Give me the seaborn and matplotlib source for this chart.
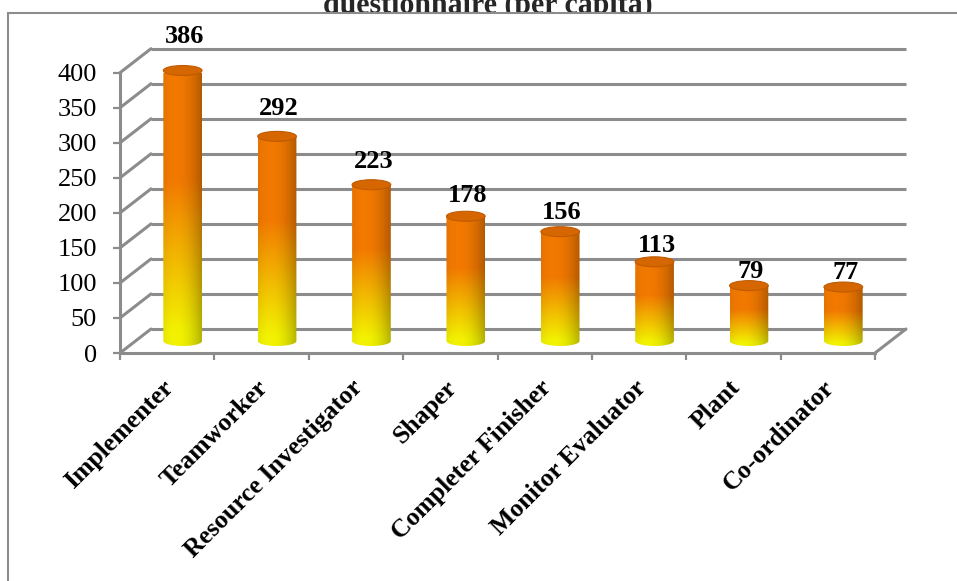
import numpy as np
import pandas as pd
import matplotlib
matplotlib.use("Agg")
import matplotlib.pyplot as plt
import seaborn as sns
from matplotlib.transforms import ScaledTranslation, Affine2D
from matplotlib.patches import Ellipse, Rectangle, ConnectionPatch
from matplotlib.path import Path

# ---- data ----
categories = ["Implementer", "Teamworker", "Resource Investigator", "Shaper",
              "Completer Finisher", "Monitor Evaluator", "Plant", "Co-ordinator"]
values = [386, 292, 223, 178, 156, 113, 79, 77]
y_ticks = [0, 50, 100, 150, 200, 250, 300, 350, 400]
title_text = "questionnaire (per capita)"

sns.set_theme(style="ticks")
plt.rcParams["font.family"] = ["Liberation Serif", "DejaVu Serif"]

W, H, DPI = 957, 581, 100
fig = plt.figure(figsize=(W / DPI, H / DPI), dpi=DPI)
fig.patch.set_facecolor("white")

GRID = "#8c8c8c"

# front plane of the 3-D box
px0, px1 = 120, 875
py0, py1 = 353, 72.7
ax = fig.add_axes([px0 / W, (H - py0) / H, (px1 - px0) / W, (py0 - py1) / H])
ax.patch.set_alpha(0)

df = pd.DataFrame({"role": categories, "count": values})
sns.barplot(data=df, x="role", y="count", ax=ax, width=0.41, color="#FF8000",
            saturation=1, zorder=3)
bars = list(ax.patches)

ax.set_xlim(-0.5, len(categories) - 0.5)
ax.set_ylim(y_ticks[0], y_ticks[-1])
ax.set_xlabel("")
ax.set_ylabel("")


def shifted(dx, dy):
    return ax.transData + ScaledTranslation(dx / DPI, dy / DPI, fig.dpi_scale_trans)


front = ax.transData
back = shifted(31, 24)
mid = shifted(15.5, 12)

# back wall gridlines and side wall diagonals
xl, xr = ax.get_xlim()
for yv in y_ticks:
    ax.plot([xl, xr], [yv, yv], transform=back, color=GRID, lw=2.2,
            clip_on=False, zorder=1, solid_capstyle="butt")
    ax.add_artist(ConnectionPatch((xl, yv), (xl, yv), coordsA=front, coordsB=back,
                                  color=GRID, lw=2.2, zorder=1, clip_on=False))
ax.add_artist(ConnectionPatch((xr, y_ticks[0]), (xr, y_ticks[0]), coordsA=front,
                              coordsB=back, color=GRID, lw=2.2, zorder=1, clip_on=False))

# spines
for s in ["top", "right"]:
    ax.spines[s].set_visible(False)
for s in ["left", "bottom"]:
    ax.spines[s].set_color(GRID)
    ax.spines[s].set_linewidth(2.2)
    ax.spines[s].set_zorder(1)

# ticks
ax.set_yticks(y_ticks)
ax.set_yticklabels([str(v) for v in y_ticks], fontsize=19)
ax.tick_params(axis="y", which="major", left=True, length=5, width=1.6,
               color=GRID, direction="out", pad=11.5, labelcolor="black")
ax.set_xticks(range(len(categories)))
ax.set_xticklabels(categories, rotation=45, ha="right", va="top",
                   rotation_mode="anchor", fontsize=18.5, fontweight="bold")
ax.set_xticks(np.arange(xl, xr + 0.01, 1), minor=True)
ax.tick_params(axis="x", which="major", bottom=True, length=0, pad=16.5,
               labelcolor="black")
ax.tick_params(axis="x", which="minor", bottom=True, length=5, width=1.6,
               color=GRID, direction="out")
for lab in ax.get_xticklabels():
    lab.set_transform(lab.get_transform() + ScaledTranslation(-5 / DPI, 0, fig.dpi_scale_trans))

# cylinder shading image
nH, nW = 256, 64
t = np.linspace(0, 1, nH)[:, None]
u = np.linspace(0, 1, nW)[None, :]
yellow = np.array([1.0, 1.0, 0.0])
orange = np.array([1.0, 0.50, 0.0])
g = np.clip((t - 0.05) / 0.55, 0, 1)[..., None]
base = yellow * (1 - g) + orange * g
shade = (1 - 0.30 * u ** 2.5 - 0.10 * (1 - u) ** 3)[..., None]
img = np.clip(base * shade, 0, 1)

ppu = (ax.transData.transform((0, 400))[1] - ax.transData.transform((0, 0))[1]) / 400
eh = 5.0 / ppu  # ellipse half height in data units

y0pix = mid.transform((0, 0))[1]
label_trans = mid + Affine2D().translate(0, -y0pix).scale(1, 1.094).translate(0, y0pix + 2.5)

for p, v in zip(bars, values):
    bx, bw, bh = p.get_x(), p.get_width(), p.get_height()
    cx = bx + bw / 2
    p.set_transform(mid)
    p.set_facecolor("none")
    p.set_edgecolor("none")
    th = np.linspace(np.pi, 2 * np.pi, 40)
    verts = [(bx, bh), (bx, 0)] + [(cx + bw / 2 * np.cos(a), eh * np.sin(a)) for a in th] \
        + [(bx + bw, bh), (bx, bh)]
    clip = Path(verts, closed=True)
    im = ax.imshow(img, extent=(bx, bx + bw, -eh, bh), origin="lower", aspect="auto",
                   interpolation="bilinear", transform=mid, zorder=3)
    im.set_clip_path(clip, mid)
    ax.add_patch(Ellipse((cx, bh), bw, 2 * eh, transform=mid, facecolor="#D56600",
                         edgecolor="#C05A00", lw=0.8, zorder=4, clip_on=False))
    ax.text(cx, v, str(v), transform=label_trans + ScaledTranslation(2 / DPI, 0, fig.dpi_scale_trans),
            ha="center", va="baseline", fontsize=19, fontweight="bold", color="black", zorder=5)

ax.set_xlim(xl, xr)
ax.set_ylim(y_ticks[0], y_ticks[-1])

# outer chart frame and title (title cut by the frame, as in the original)
fig.add_artist(Rectangle((8 / W, -0.1), 1.2, (H - 13) / H + 0.1, transform=fig.transFigure,
                         facecolor="white", edgecolor=GRID, lw=1.5, zorder=-1))
fig.text(488 / W, 1 - 12.5 / H, title_text, ha="center", va="baseline", fontsize=21.5,
         fontweight="bold", zorder=-2)

fig.savefig("out.png", dpi=DPI)
